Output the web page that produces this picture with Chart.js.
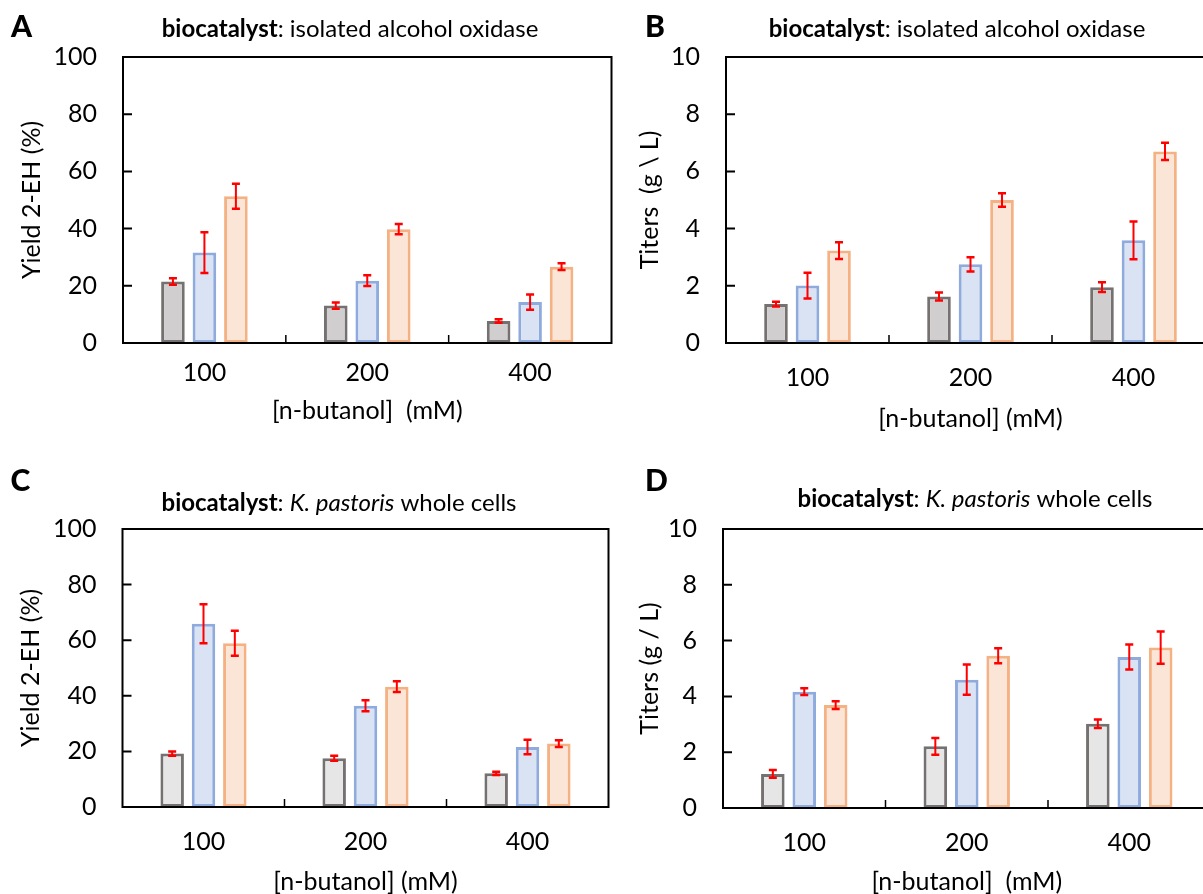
<!DOCTYPE html>
<html lang="en">
<head>
<meta charset="UTF-8">
<title>2-EH yield and titers</title>
<script src="https://cdn.jsdelivr.net/npm/chart.js"></script>
<style>
  html, body { margin: 0; padding: 0; background: #fff; overflow: hidden; }
  #fig { position: relative; width: 1203px; height: 894px; overflow: hidden; background: #fff; }
  #fig canvas { position: absolute; }
</style>
</head>
<body>
<div id="fig">
  <canvas id="chartA" width="640" height="447" style="left:0;top:0"></canvas>
  <canvas id="chartB" width="640" height="447" style="left:600px;top:0"></canvas>
  <canvas id="chartC" width="640" height="470" style="left:0;top:447px"></canvas>
  <canvas id="chartD" width="640" height="470" style="left:600px;top:447px"></canvas>
</div>

<script>
const categories = ['100', '200', '400'];

// A - isolated alcohol oxidase, yield 2-EH (%)
const yieldEnzGray = [21.5, 13.1, 7.7];
const yieldEnzGrayErr = [1.1, 1.1, 0.6];
const yieldEnzBlue = [31.6, 21.8, 14.3];
const yieldEnzBlueErr = [7.1, 1.9, 2.7];
const yieldEnzOrange = [51.3, 39.8, 26.7];
const yieldEnzOrangeErr = [4.4, 1.8, 1.2];

// B - isolated alcohol oxidase, titers (g/L)
const titerEnzGray = [1.36, 1.63, 1.95];
const titerEnzGrayErr = [0.08, 0.14, 0.17];
const titerEnzBlue = [2.01, 2.75, 3.59];
const titerEnzBlueErr = [0.45, 0.25, 0.66];
const titerEnzOrange = [3.23, 5.0, 6.7];
const titerEnzOrangeErr = [0.29, 0.24, 0.3];

// C - K. pastoris whole cells, yield 2-EH (%)
const yieldCellGray = [19.2, 17.5, 12.1];
const yieldCellGrayErr = [0.8, 0.9, 0.6];
const yieldCellBlue = [65.9, 36.4, 21.6];
const yieldCellBlueErr = [7.0, 2.0, 2.6];
const yieldCellOrange = [58.9, 43.3, 22.8];
const yieldCellOrangeErr = [4.5, 1.9, 1.2];

// D - K. pastoris whole cells, titers (g/L)
const titerCellGray = [1.22, 2.21, 3.02];
const titerCellGrayErr = [0.14, 0.3, 0.15];
const titerCellBlue = [4.17, 4.6, 5.41];
const titerCellBlueErr = [0.12, 0.54, 0.45];
const titerCellOrange = [3.69, 5.46, 5.75];
const titerCellOrangeErr = [0.14, 0.27, 0.58];

const FONT = 'Lato, "Noto Sans", sans-serif';

const titleEnz = [['bold', 'biocatalyst'], ['normal', ': isolated alcohol oxidase']];
const titleCell = [['bold', 'biocatalyst'], ['normal', ': '], ['italic', 'K. pastoris'], ['normal', ' whole cells']];

// draws error bars, plot frame, inward ticks, panel letter and title
const decor = {
    id: 'decor',
    afterDatasetsDraw(chart) {
        const ctx = chart.ctx;
        const y = chart.scales.y;
        ctx.save();
        ctx.strokeStyle = '#ff0000';
        ctx.lineWidth = 2;
        chart.data.datasets.forEach((ds, i) => {
            chart.getDatasetMeta(i).data.forEach((bar, j) => {
                const v = ds.data[j], e = ds.errors[j];
                const y1 = y.getPixelForValue(v + e);
                const y2 = y.getPixelForValue(v - e);
                ctx.beginPath();
                ctx.moveTo(bar.x, y1); ctx.lineTo(bar.x, y2);
                ctx.stroke();
                ctx.lineWidth = 2.5;
                ctx.beginPath();
                ctx.moveTo(bar.x - 4, y1); ctx.lineTo(bar.x + 4, y1);
                ctx.moveTo(bar.x - 4, y2); ctx.lineTo(bar.x + 4, y2);
                ctx.stroke();
                ctx.lineWidth = 2;
            });
        });
        ctx.restore();
    },
    afterDraw(chart, args, opts) {
        const ctx = chart.ctx;
        const a = chart.chartArea;
        const x = chart.scales.x, y = chart.scales.y;
        ctx.save();
        ctx.strokeStyle = '#000';
        ctx.lineWidth = 2;
        ctx.strokeRect(a.left, a.top, a.right - a.left, a.bottom - a.top);
        ctx.beginPath();
        y.ticks.forEach(t => {
            const p = y.getPixelForValue(t.value);
            ctx.moveTo(a.left, p); ctx.lineTo(a.left + 9, p);
        });
        ctx.stroke();
        ctx.lineWidth = 1.5;
        ctx.beginPath();
        for (let i = 1; i < categories.length; i++) {
            const p = (x.getPixelForValue(i - 1) + x.getPixelForValue(i)) / 2;
            ctx.moveTo(p, a.bottom); ctx.lineTo(p, a.bottom - 8);
        }
        ctx.stroke();

        ctx.fillStyle = '#000';
        ctx.textBaseline = 'alphabetic';
        ctx.textAlign = 'left';
        ctx.font = '900 30px ' + FONT;
        ctx.fillText(opts.letter, opts.letterX, opts.letterY);

        const fonts = opts.title.map(([st]) => {
            if (st === 'bold') return 'bold 24px ' + FONT;
            if (st === 'italic') return 'italic 24px ' + FONT;
            return '24px ' + FONT;
        });
        let total = 0;
        opts.title.forEach(([st, txt], i) => { ctx.font = fonts[i]; total += ctx.measureText(txt).width; });
        let cx = opts.titleX - total / 2;
        opts.title.forEach(([st, txt], i) => {
            ctx.font = fonts[i];
            ctx.fillText(txt, cx, opts.titleY);
            cx += ctx.measureText(txt).width;
        });
        ctx.restore();
    }
};

function makePanel(id, p) {
    const bar = (label, data, errors, fill, border) => ({
        label, data, errors,
        backgroundColor: fill,
        borderColor: border,
        borderWidth: 3,
        borderSkipped: false,
        categoryPercentage: 0.58,
        barPercentage: 0.75
    });
    return new Chart(document.getElementById(id), {
        type: 'bar',
        data: {
            labels: categories,
            datasets: [
                bar('Series 1', p.gray, p.grayErr, p.grayFill, '#767171'),
                bar('Series 2', p.blue, p.blueErr, '#dae3f3', '#8faadc'),
                bar('Series 3', p.orange, p.orangeErr, '#fbe5d6', '#f4b183')
            ]
        },
        plugins: [decor],
        options: {
            responsive: false,
            animation: false,
            devicePixelRatio: 1,
            layout: { padding: { left: 0, top: p.top, right: p.right, bottom: 0 } },
            plugins: {
                legend: { display: false },
                tooltip: { enabled: false },
                decor: {
                    letter: p.letter, letterX: p.letterX, letterY: p.letterY,
                    title: p.title, titleX: p.titleX, titleY: p.titleY
                }
            },
            scales: {
                x: {
                    grid: { display: false, drawTicks: false },
                    border: { display: false },
                    ticks: { color: '#000', font: { family: FONT, size: 25 }, padding: p.xTickPad },
                    title: {
                        display: true, text: p.xTitle, color: '#000',
                        font: { family: FONT, size: 25 },
                        padding: { top: 0, bottom: p.xTitlePad }
                    },
                    afterFit: s => { s.height = p.xHeight; }
                },
                y: {
                    min: 0, max: p.yMax,
                    grid: { display: false, drawTicks: false },
                    border: { display: false },
                    ticks: { stepSize: p.yMax / 5, color: '#000', font: { family: FONT, size: 25 }, padding: 26 },
                    title: {
                        display: true, text: p.yTitle, color: '#000',
                        font: { family: FONT, size: 25 },
                        padding: { top: p.yTitlePad, bottom: 0 }
                    },
                    afterFit: s => { s.width = p.yWidth; }
                }
            }
        }
    });
}

makePanel('chartA', {
    gray: yieldEnzGray, grayErr: yieldEnzGrayErr, blue: yieldEnzBlue, blueErr: yieldEnzBlueErr,
    orange: yieldEnzOrange, orangeErr: yieldEnzOrangeErr, grayFill: '#d0cece',
    yMax: 100, yTitle: 'Yield 2-EH (%)', xTitle: '[n-butanol]  (mM)',
    letter: 'A', letterX: 11, letterY: 37, title: titleEnz, titleX: 350, titleY: 37,
    top: 57, right: 28.5, yWidth: 123, xHeight: 104, xTickPad: 15, xTitlePad: 21, yTitlePad: 16.5
});
makePanel('chartB', {
    gray: titerEnzGray, grayErr: titerEnzGrayErr, blue: titerEnzBlue, blueErr: titerEnzBlueErr,
    orange: titerEnzOrange, orangeErr: titerEnzOrangeErr, grayFill: '#d0cece',
    yMax: 10, yTitle: 'Titers  (g \\ L)', xTitle: '[n-butanol] (mM)',
    letter: 'B', letterX: 45, letterY: 37, title: titleEnz, titleX: 357, titleY: 37,
    top: 57, right: 25, yWidth: 126, xHeight: 104, xTickPad: 19.5, xTitlePad: 13, yTitlePad: 35
});
makePanel('chartC', {
    gray: yieldCellGray, grayErr: yieldCellGrayErr, blue: yieldCellBlue, blueErr: yieldCellBlueErr,
    orange: yieldCellOrange, orangeErr: yieldCellOrangeErr, grayFill: '#e7e6e6',
    yMax: 100, yTitle: 'Yield 2-EH (%)', xTitle: '[n-butanol] (mM)',
    letter: 'C', letterX: 10.5, letterY: 43.5, title: titleCell, titleX: 339, titleY: 64,
    top: 82, right: 31.5, yWidth: 122.5, xHeight: 110, xTickPad: 20, xTitlePad: 20, yTitlePad: 16
});
makePanel('chartD', {
    gray: titerCellGray, grayErr: titerCellGrayErr, blue: titerCellBlue, blueErr: titerCellBlueErr,
    orange: titerCellOrange, orangeErr: titerCellOrangeErr, grayFill: '#e7e6e6',
    yMax: 10, yTitle: 'Titers (g / L)', xTitle: '[n-butanol]  (mM)',
    letter: 'D', letterX: 45, letterY: 43.5, title: titleCell, titleX: 375, titleY: 59.5,
    top: 82, right: 29.5, yWidth: 123, xHeight: 109, xTickPad: 19.5, xTitlePad: 20, yTitlePad: 35
});
</script>
</body>
</html>
